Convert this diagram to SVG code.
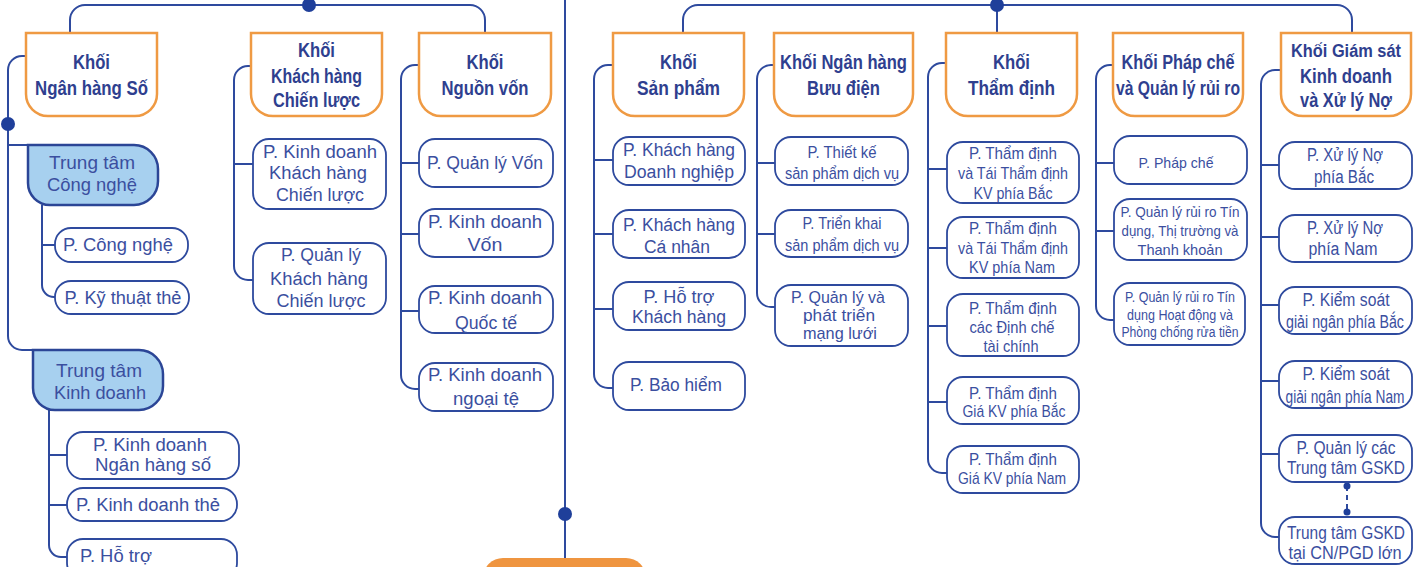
<svg xmlns="http://www.w3.org/2000/svg" width="1418" height="567" viewBox="0 0 1418 567">
<style>
.hdr{fill:#fff;stroke:#ef9a43;stroke-width:2.5}
.box{fill:#fff;stroke:#2e4a9e;stroke-width:1.8}
.ctr{fill:#a7d0ef;stroke:#2b4596;stroke-width:2.5}
.ln{fill:none;stroke:#2e4a9e;stroke-width:2}
.dot{fill:#1f3f9a}
text{font-family:"Liberation Sans",Arial,sans-serif;text-anchor:middle}
.ht{font-weight:bold;font-size:20px;fill:#2f3f8f}
.t{font-size:18px;fill:#3b4f9f}
.t17{font-size:17px;fill:#3b4f9f}
.t15{font-size:15px;fill:#3b4f9f}
.t14{font-size:14px;fill:#3b4f9f}
.ct{font-size:19px;fill:#3b4f9f}
</style>
<g id="connectors">
<path class="ln" d="M70,33 V20 A15,15 0 0 1 85,5 H470 A15,15 0 0 1 485,20 V33"/>
<path class="ln" d="M683,33 V20 A15,15 0 0 1 698,5 H1337 A15,15 0 0 1 1352,20 V33"/>
<path class="ln" d="M997,5 V33"/>
<path class="ln" d="M565,0 V560"/>
<circle class="dot" cx="309" cy="5" r="7"/>
<circle class="dot" cx="997" cy="5" r="7"/>
<circle class="dot" cx="565" cy="514" r="7"/>
<path class="ln" d="M26,56 H22 A14,14 0 0 0 8,70 V336 A14,14 0 0 0 22,350 H33"/>
<path class="ln" d="M8,145 H28"/>
<circle class="dot" cx="8" cy="124" r="7"/>
<path class="ln" d="M42,205 V285 A12,12 0 0 0 54,297 H55 M42,245 H55"/>
<path class="ln" d="M49,410 V545 A12,12 0 0 0 61,557 H67 M49,455 H67 M49,505 H67"/>
<path class="ln" d="M251,66 H248 A14,14 0 0 0 234,80 V266 A14,14 0 0 0 248,280 H253 M234,164 H253"/>
<path class="ln" d="M419,65 H415 A14,14 0 0 0 401,79 V375 A14,14 0 0 0 415,389 H419 M401,163 H419 M401,234 H419 M401,311 H419"/>
<path class="ln" d="M613,65 H608 A14,14 0 0 0 594,79 V374 A14,14 0 0 0 608,388 H613 M594,160 H613 M594,234 H613 M594,309 H613"/>
<path class="ln" d="M774,65 H771 A14,14 0 0 0 757,79 V293 A14,14 0 0 0 771,307 H775 M757,163 H775 M757,234 H775"/>
<path class="ln" d="M946,63 H942 A14,14 0 0 0 928,77 V459 A14,14 0 0 0 942,473 H947 M928,169 H947 M928,248 H947 M928,326 H947 M928,402 H947"/>
<path class="ln" d="M1113,65 H1110 A14,14 0 0 0 1096,79 V306 A14,14 0 0 0 1110,320 H1114 M1096,163 H1114 M1096,231 H1114"/>
<path class="ln" d="M1281,70 H1275 A14,14 0 0 0 1261,84 V523 A14,14 0 0 0 1275,537 H1279 M1261,165 H1279 M1261,237 H1279 M1261,305 H1279 M1261,381 H1279 M1261,454 H1279"/>
<path class="ln" d="M1347,486 V512" stroke-dasharray="5,4"/>
<circle class="dot" cx="1347" cy="486" r="3.5"/>
<circle class="dot" cx="1347" cy="512" r="3.5"/>
</g>
<g id="root"><rect x="483" y="558" width="163" height="40" rx="20" fill="#ef9540"/></g>
<g id="h1"><path class="hdr" d="M26,33 H157 V94 A22,22 0 0 1 135,116 H48 A22,22 0 0 1 26,94 Z"/>
<text class="ht" x="91.5" y="69" textLength="37" lengthAdjust="spacingAndGlyphs">Khối</text>
<text class="ht" x="91.5" y="95" textLength="113" lengthAdjust="spacingAndGlyphs">Ngân hàng Số</text></g>
<g id="h2"><path class="hdr" d="M251,33 H382 V94 A22,22 0 0 1 360,116 H273 A22,22 0 0 1 251,94 Z"/>
<text class="ht" x="316.5" y="57" textLength="37" lengthAdjust="spacingAndGlyphs">Khối</text>
<text class="ht" x="316.5" y="83" textLength="91" lengthAdjust="spacingAndGlyphs">Khách hàng</text>
<text class="ht" x="316.5" y="107" textLength="87" lengthAdjust="spacingAndGlyphs">Chiến lược</text></g>
<g id="h3"><path class="hdr" d="M419,33 H551 V94 A22,22 0 0 1 529,116 H441 A22,22 0 0 1 419,94 Z"/>
<text class="ht" x="485" y="69" textLength="37" lengthAdjust="spacingAndGlyphs">Khối</text>
<text class="ht" x="485" y="95" textLength="87" lengthAdjust="spacingAndGlyphs">Nguồn vốn</text></g>
<g id="h4"><path class="hdr" d="M613,33 H744 V94 A22,22 0 0 1 722,116 H635 A22,22 0 0 1 613,94 Z"/>
<text class="ht" x="678.5" y="69" textLength="37" lengthAdjust="spacingAndGlyphs">Khối</text>
<text class="ht" x="678.5" y="95" textLength="83" lengthAdjust="spacingAndGlyphs">Sản phẩm</text></g>
<g id="h5"><path class="hdr" d="M774,33 H913 V94 A22,22 0 0 1 891,116 H796 A22,22 0 0 1 774,94 Z"/>
<text class="ht" x="843.5" y="69" textLength="127" lengthAdjust="spacingAndGlyphs">Khối Ngân hàng</text>
<text class="ht" x="843.5" y="95" textLength="73" lengthAdjust="spacingAndGlyphs">Bưu điện</text></g>
<g id="h6"><path class="hdr" d="M946,33 H1077 V94 A22,22 0 0 1 1055,116 H968 A22,22 0 0 1 946,94 Z"/>
<text class="ht" x="1011.5" y="69" textLength="37" lengthAdjust="spacingAndGlyphs">Khối</text>
<text class="ht" x="1011.5" y="95" textLength="87" lengthAdjust="spacingAndGlyphs">Thẩm định</text></g>
<g id="h7"><path class="hdr" d="M1113,33 H1243 V94 A22,22 0 0 1 1221,116 H1135 A22,22 0 0 1 1113,94 Z"/>
<text class="ht" x="1178" y="69" textLength="113" lengthAdjust="spacingAndGlyphs">Khối Pháp chế</text>
<text class="ht" x="1178" y="95" textLength="124" lengthAdjust="spacingAndGlyphs">và Quản lý rủi ro</text></g>
<g id="h8"><path class="hdr" d="M1281,33 H1411 V94 A22,22 0 0 1 1389,116 H1303 A22,22 0 0 1 1281,94 Z"/>
<text class="ht" x="1346" y="57" style="font-size:18px" textLength="110" lengthAdjust="spacingAndGlyphs">Khối Giám sát</text>
<text class="ht" x="1346" y="83" textLength="92" lengthAdjust="spacingAndGlyphs">Kinh doanh</text>
<text class="ht" x="1346" y="107" textLength="92" lengthAdjust="spacingAndGlyphs">và Xử lý Nợ</text></g>
<g id="ttcn"><path class="ctr" d="M28,145 H134 A24,24 0 0 1 158,169 V181 A24,24 0 0 1 134,205 H50 A22,22 0 0 1 28,183 Z"/>
<text class="ct" x="92" y="169" textLength="86" lengthAdjust="spacingAndGlyphs">Trung tâm</text>
<text class="ct" x="92" y="191" textLength="90" lengthAdjust="spacingAndGlyphs">Công nghệ</text></g>
<g id="ttkd"><path class="ctr" d="M33,350 H139 A24,24 0 0 1 163,374 V386 A24,24 0 0 1 139,410 H55 A22,22 0 0 1 33,388 Z"/>
<text class="ct" x="99" y="377" textLength="86" lengthAdjust="spacingAndGlyphs">Trung tâm</text>
<text class="ct" x="100" y="399" textLength="92" lengthAdjust="spacingAndGlyphs">Kinh doanh</text></g>
<g id="c1"><rect class="box" x="55" y="228" width="133" height="34" rx="16"/><text class="t" x="118" y="251" textLength="110" lengthAdjust="spacingAndGlyphs">P. Công nghệ</text></g>
<g id="c2"><rect class="box" x="55" y="281" width="134" height="33" rx="16"/><text class="t" x="123" y="304" textLength="117" lengthAdjust="spacingAndGlyphs">P. Kỹ thuật thẻ</text></g>
<g id="c3"><rect class="box" x="67" y="432" width="172" height="47" rx="16"/><text class="t" x="150" y="451" textLength="114" lengthAdjust="spacingAndGlyphs">P. Kinh doanh</text><text class="t" x="153" y="471" textLength="116" lengthAdjust="spacingAndGlyphs">Ngân hàng số</text></g>
<g id="c4"><rect class="box" x="67" y="488" width="170" height="33" rx="16"/><text class="t" x="148" y="511" textLength="144" lengthAdjust="spacingAndGlyphs">P. Kinh doanh thẻ</text></g>
<g id="c5"><rect class="box" x="67" y="539" width="170" height="40" rx="16"/><text class="t" x="116" y="562" textLength="72" lengthAdjust="spacingAndGlyphs">P. Hỗ trợ</text></g>
<g id="c6"><rect class="box" x="253" y="139" width="133" height="70" rx="16"/><text class="t" x="320" y="158" textLength="114" lengthAdjust="spacingAndGlyphs">P. Kinh doanh</text><text class="t" x="318" y="179" textLength="98" lengthAdjust="spacingAndGlyphs">Khách hàng</text><text class="t" x="320" y="201" textLength="88" lengthAdjust="spacingAndGlyphs">Chiến lược</text></g>
<g id="c7"><rect class="box" x="253" y="243" width="133" height="71" rx="16"/><text class="t" x="321" y="261" textLength="80" lengthAdjust="spacingAndGlyphs">P. Quản lý</text><text class="t" x="319" y="285" textLength="98" lengthAdjust="spacingAndGlyphs">Khách hàng</text><text class="t" x="321" y="307" textLength="89" lengthAdjust="spacingAndGlyphs">Chiến lược</text></g>
<g id="c8"><rect class="box" x="419" y="139" width="134" height="48" rx="16"/><text class="t" x="485" y="169" textLength="116" lengthAdjust="spacingAndGlyphs">P. Quản lý Vốn</text></g>
<g id="c9"><rect class="box" x="419" y="209" width="134" height="48" rx="16"/><text class="t" x="485" y="228" textLength="114" lengthAdjust="spacingAndGlyphs">P. Kinh doanh</text><text class="t" x="485" y="251" textLength="35" lengthAdjust="spacingAndGlyphs">Vốn</text></g>
<g id="c10"><rect class="box" x="419" y="286" width="134" height="47" rx="16"/><text class="t" x="485" y="304" textLength="114" lengthAdjust="spacingAndGlyphs">P. Kinh doanh</text><text class="t" x="486" y="329" textLength="62" lengthAdjust="spacingAndGlyphs">Quốc tế</text></g>
<g id="c11"><rect class="box" x="419" y="363" width="134" height="48" rx="16"/><text class="t" x="485" y="381" textLength="114" lengthAdjust="spacingAndGlyphs">P. Kinh doanh</text><text class="t" x="486" y="405" textLength="66" lengthAdjust="spacingAndGlyphs">ngoại tệ</text></g>
<g id="c12"><rect class="box" x="613" y="137" width="132" height="48" rx="16"/><text class="t" x="679" y="156" textLength="112" lengthAdjust="spacingAndGlyphs">P. Khách hàng</text><text class="t" x="679" y="178" textLength="110" lengthAdjust="spacingAndGlyphs">Doanh nghiệp</text></g>
<g id="c13"><rect class="box" x="613" y="210" width="132" height="48" rx="16"/><text class="t" x="679" y="231" textLength="112" lengthAdjust="spacingAndGlyphs">P. Khách hàng</text><text class="t" x="677" y="253" textLength="66" lengthAdjust="spacingAndGlyphs">Cá nhân</text></g>
<g id="c14"><rect class="box" x="613" y="282" width="132" height="48" rx="16"/><text class="t" x="679" y="303" textLength="71" lengthAdjust="spacingAndGlyphs">P. Hỗ trợ</text><text class="t" x="679" y="323" textLength="94" lengthAdjust="spacingAndGlyphs">Khách hàng</text></g>
<g id="c15"><rect class="box" x="613" y="362" width="132" height="48" rx="16"/><text class="t" x="676" y="391" textLength="92" lengthAdjust="spacingAndGlyphs">P. Bảo hiểm</text></g>
<g id="c16"><rect class="box" x="775" y="137" width="133" height="48" rx="16"/><text class="t17" x="842" y="158" textLength="69" lengthAdjust="spacingAndGlyphs">P. Thiết kế</text><text class="t17" x="842" y="179" textLength="114" lengthAdjust="spacingAndGlyphs">sản phẩm dịch vụ</text></g>
<g id="c17"><rect class="box" x="775" y="210" width="133" height="47" rx="16"/><text class="t17" x="842" y="229" textLength="79" lengthAdjust="spacingAndGlyphs">P. Triển khai</text><text class="t17" x="842" y="251" textLength="114" lengthAdjust="spacingAndGlyphs">sản phẩm dịch vụ</text></g>
<g id="c18"><rect class="box" x="775" y="285" width="133" height="61" rx="16"/><text class="t17" x="838" y="303" textLength="94" lengthAdjust="spacingAndGlyphs">P.  Quản lý và</text><text class="t17" x="839" y="321" textLength="72" lengthAdjust="spacingAndGlyphs">phát triển</text><text class="t17" x="840" y="339" textLength="74" lengthAdjust="spacingAndGlyphs">mạng lưới</text></g>
<g id="c19"><rect class="box" x="947" y="142" width="132" height="61" rx="16"/><text class="t17" x="1013" y="159" textLength="88" lengthAdjust="spacingAndGlyphs">P.  Thẩm định</text><text class="t17" x="1013" y="179" textLength="110" lengthAdjust="spacingAndGlyphs">và Tái Thẩm định</text><text class="t17" x="1013" y="199" textLength="79" lengthAdjust="spacingAndGlyphs">KV phía Bắc</text></g>
<g id="c20"><rect class="box" x="947" y="217" width="132" height="61" rx="16"/><text class="t17" x="1013" y="234" textLength="88" lengthAdjust="spacingAndGlyphs">P.  Thẩm định</text><text class="t17" x="1013" y="254" textLength="110" lengthAdjust="spacingAndGlyphs">và Tái Thẩm định</text><text class="t17" x="1012" y="273" textLength="86" lengthAdjust="spacingAndGlyphs">KV phía Nam</text></g>
<g id="c21"><rect class="box" x="947" y="294" width="132" height="62" rx="16"/><text class="t17" x="1013" y="314" textLength="88" lengthAdjust="spacingAndGlyphs">P.  Thẩm định</text><text class="t17" x="1012" y="333" textLength="85" lengthAdjust="spacingAndGlyphs">các Định chế</text><text class="t17" x="1011" y="352" textLength="55" lengthAdjust="spacingAndGlyphs">tài chính</text></g>
<g id="c22"><rect class="box" x="947" y="377" width="132" height="47" rx="16"/><text class="t17" x="1013" y="399" textLength="88" lengthAdjust="spacingAndGlyphs">P.  Thẩm định</text><text class="t17" x="1014" y="417" textLength="103" lengthAdjust="spacingAndGlyphs">Giá KV phía Bắc</text></g>
<g id="c23"><rect class="box" x="947" y="446" width="132" height="47" rx="16"/><text class="t17" x="1013" y="465" textLength="88" lengthAdjust="spacingAndGlyphs">P.  Thẩm định</text><text class="t17" x="1012" y="484" textLength="108" lengthAdjust="spacingAndGlyphs">Giá KV phía Nam</text></g>
<g id="c24"><rect class="box" x="1114" y="136" width="133" height="48" rx="16"/><text class="t15" x="1176" y="168" textLength="75" lengthAdjust="spacingAndGlyphs">P.  Pháp chế</text></g>
<g id="c25"><rect class="box" x="1114" y="199" width="133" height="61" rx="16"/><text class="t15" x="1180" y="217" textLength="119" lengthAdjust="spacingAndGlyphs">P.  Quản lý rủi ro Tín</text><text class="t15" x="1180" y="236" textLength="117" lengthAdjust="spacingAndGlyphs">dụng, Thị trường và</text><text class="t15" x="1180" y="255" textLength="85" lengthAdjust="spacingAndGlyphs">Thanh khoản</text></g>
<g id="c26"><rect class="box" x="1114" y="283" width="131" height="62" rx="16"/><text class="t14" x="1180" y="302" textLength="110" lengthAdjust="spacingAndGlyphs">P. Quản lý rủi ro Tín</text><text class="t14" x="1180" y="320" textLength="106" lengthAdjust="spacingAndGlyphs">dụng Hoạt động và</text><text class="t14" x="1180" y="337" textLength="117" lengthAdjust="spacingAndGlyphs">Phòng chống rửa tiền</text></g>
<g id="c27"><rect class="box" x="1279" y="142" width="133" height="47" rx="16"/><text class="t" x="1345" y="161" textLength="76" lengthAdjust="spacingAndGlyphs">P. Xử lý Nợ</text><text class="t" x="1344" y="183" textLength="60" lengthAdjust="spacingAndGlyphs">phía Bắc</text></g>
<g id="c28"><rect class="box" x="1279" y="215" width="133" height="47" rx="16"/><text class="t" x="1345" y="234" textLength="76" lengthAdjust="spacingAndGlyphs">P. Xử lý Nợ</text><text class="t" x="1343" y="255" textLength="69" lengthAdjust="spacingAndGlyphs">phía Nam</text></g>
<g id="c29"><rect class="box" x="1279" y="287" width="133" height="47" rx="16"/><text class="t" x="1346" y="306" textLength="87" lengthAdjust="spacingAndGlyphs">P.  Kiểm soát</text><text class="t" transform="translate(1345,328) scale(0.8,1)" x="0" y="0" textLength="147.5" lengthAdjust="spacingAndGlyphs">giải ngân phía Bắc</text></g>
<g id="c30"><rect class="box" x="1279" y="361" width="133" height="47" rx="16"/><text class="t" x="1346" y="380" textLength="87" lengthAdjust="spacingAndGlyphs">P.  Kiểm soát</text><text class="t" transform="translate(1345,403) scale(0.8,1)" x="0" y="0" textLength="148.75" lengthAdjust="spacingAndGlyphs">giải ngân phía Nam</text></g>
<g id="c31"><rect class="box" x="1279" y="435" width="133" height="47" rx="16"/><text class="t" x="1346" y="454" textLength="99" lengthAdjust="spacingAndGlyphs">P.  Quản lý các</text><text class="t" transform="translate(1346,474) scale(0.8,1)" x="0" y="0" textLength="147.5" lengthAdjust="spacingAndGlyphs">Trung tâm GSKD</text></g>
<g id="c32"><rect class="box" x="1279" y="517" width="133" height="47" rx="16"/><text class="t" transform="translate(1346,539) scale(0.8,1)" x="0" y="0" textLength="147.5" lengthAdjust="spacingAndGlyphs">Trung tâm GSKD</text><text class="t" x="1345" y="559" textLength="113" lengthAdjust="spacingAndGlyphs">tại CN/PGD lớn</text></g>
</svg>
